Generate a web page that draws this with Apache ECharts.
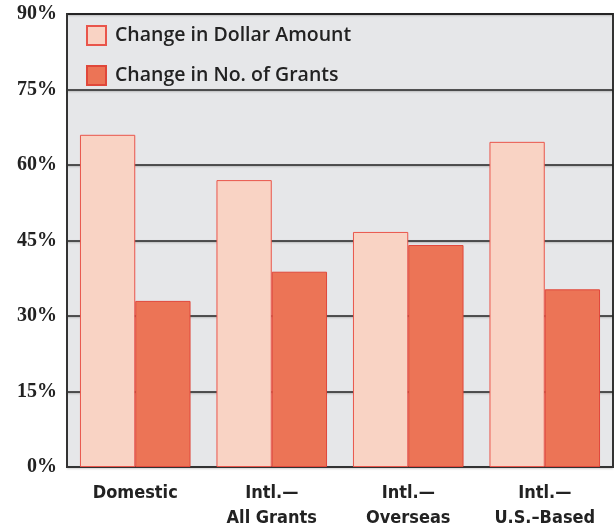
<!DOCTYPE html>
<html><head><meta charset="utf-8">
<script src="https://cdn.jsdelivr.net/npm/echarts@6/dist/echarts.min.js"></script>
<style>html,body{margin:0;padding:0;background:#fff}#c{width:614px;height:531px}</style>
</head><body><div id="c"></div>
<script>
const categories = ['Domestic', 'Intl.—\nAll Grants', 'Intl.—\nOverseas', 'Intl.—\nU.S.–Based'];
const dollarChange = [66, 57, 46.7, 64.6];
const grantsChange = [33, 38.8, 44.1, 35.3];
const yTicks = [0, 15, 30, 45, 60, 75, 90];
const seriesNames = ['Change in Dollar Amount', 'Change in No. of Grants'];

const chart = echarts.init(document.getElementById('c'));
chart.setOption({
  animation: false,
  grid: { left: 67, right: 1, top: 14, bottom: 60, show: true, backgroundColor: '#e6e7e9', borderColor: '#333', borderWidth: 2 },
  legend: {
    orient: 'vertical', left: 86, top: 25, padding: 0, itemWidth: 19, itemHeight: 19, itemGap: 19, icon: 'rect',
    textStyle: { fontFamily: 'Open Sans', fontWeight: 600, fontSize: 19.5, color: '#222', padding: [0, 0, 0, 4] },
    data: seriesNames
  },
  xAxis: {
    type: 'category', data: categories,
    axisLine: { show: true, lineStyle: { color: '#333', width: 2 } },
    axisTick: { show: false },
    axisLabel: { fontFamily: 'DejaVu Sans Condensed', fontWeight: 'bold', fontSize: 18, color: '#222', margin: 14, lineHeight: 25 }
  },
  yAxis: {
    type: 'value', min: yTicks[0], max: yTicks[yTicks.length - 1], interval: 15,
    axisLine: { show: true, lineStyle: { color: '#333', width: 2 } },
    axisTick: { show: false },
    splitLine: { lineStyle: { color: '#222', width: 1.5, shadowColor: 'rgba(0,0,0,0.25)', shadowBlur: 2, shadowOffsetY: 1 } },
    axisLabel: { formatter: v => v + '%', fontFamily: 'Liberation Serif', fontWeight: 'bold', fontSize: 20, color: '#222', margin: 10 }
  },
  series: [
    { name: seriesNames[0], type: 'bar', data: dollarChange, barCategoryGap: '19%', barGap: '0%',
      itemStyle: { color: '#f9d3c4', borderColor: '#e9554b', borderWidth: 1 } },
    { name: seriesNames[1], type: 'bar', data: grantsChange, barCategoryGap: '19%', barGap: '0%',
      itemStyle: { color: '#ec7456', borderColor: '#e0473a', borderWidth: 1 } }
  ]
});
</script></body></html>
